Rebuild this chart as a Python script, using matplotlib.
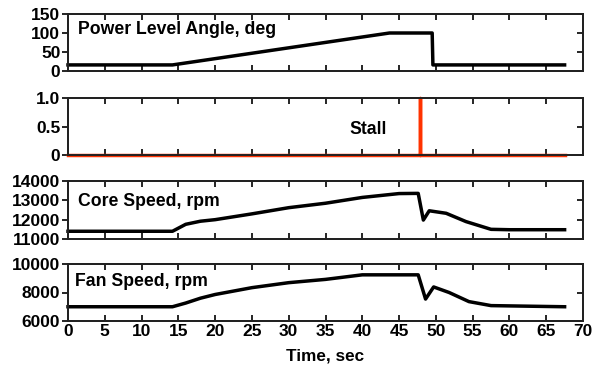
import matplotlib
matplotlib.use('Agg')
import matplotlib.pyplot as plt

plt.rcParams['font.family'] = ['Liberation Sans', 'DejaVu Sans']
plt.rcParams['font.weight'] = 'bold'

# Power level angle, deg
pla_t = [0, 14.2, 43.7, 49.5, 49.6, 67.5]
pla_v = [16, 16, 100, 100, 16, 16]

# Stall flag
stall_t = [0, 47.8, 47.8, 47.9, 47.9, 67.5]
stall_v = [0, 0, 1, 1, 0, 0]

# Core speed, rpm
core_t = [0, 14.2, 16, 18, 20, 25, 30, 35, 40, 45, 47.6, 48.3, 49.1, 51.4, 54.1, 57.5, 60, 67.5]
core_v = [11400, 11400, 11760, 11920, 12000, 12300, 12620, 12850, 13150, 13350, 13360,
          11980, 12460, 12330, 11900, 11500, 11480, 11480]

# Fan speed, rpm
fan_t = [0, 14.2, 16, 18, 20, 25, 30, 35, 40, 47.6, 48.6, 49.7, 51.8, 54.5, 57.5, 67.5]
fan_v = [7000, 7000, 7260, 7600, 7860, 8340, 8690, 8920, 9240, 9240, 7540, 8390, 8000,
         7360, 7080, 7000]

xticks = list(range(0, 75, 5))

fig = plt.figure(figsize=(6.01, 3.72), dpi=100)
W, H = 601, 372

def make_ax(top, bottom, ylim, yticks, ylabels):
    ax = fig.add_axes([68 / W, 1 - bottom / H, 515 / W, (bottom - top) / H])
    ax.set_xlim(0, 70)
    ax.set_ylim(*ylim)
    ax.set_xticks(xticks)
    ax.set_yticks(yticks)
    ax.set_yticklabels(ylabels)
    ax.tick_params(axis='x', direction='in', top=True, bottom=True, length=4, width=1.2,
                   labelbottom=False, labelsize=12.5)
    ax.tick_params(axis='y', direction='out', left=True, right=False, length=4, width=1.2,
                   labelsize=12.5, pad=1.5)
    r = ax.twinx()
    r.set_ylim(*ylim)
    r.set_yticks(yticks)
    r.tick_params(axis='y', direction='in', length=4, width=1.2, labelright=False)
    for a in (ax, r):
        for s in a.spines.values():
            s.set_linewidth(1.4)
            s.set_color('#222222')
    return ax

ax1 = make_ax(14, 71, (0, 150), [0, 50, 100, 150], ['0', '50', '100', '150'])
ax1.plot(pla_t, pla_v, color='black', lw=2.5, clip_on=False)
ax1.text(1.3, 108, 'Power Level Angle, deg', fontsize=12.7, fontweight='bold', va='center')

ax2 = make_ax(98, 155, (0, 1), [0, 0.5, 1.0], ['0', '0.5', '1.0'])
ax2.plot(stall_t, stall_v, color='#ff3300', lw=2.5, clip_on=False, zorder=5)
ax2.text(38.3, 0.44, 'Stall', fontsize=12.7, fontweight='bold', va='center')

ax3 = make_ax(181, 239, (11000, 14000), [11000, 12000, 13000, 14000],
              ['11000', '12000', '13000', '14000'])
ax3.plot(core_t, core_v, color='black', lw=2.5, clip_on=False)
ax3.text(1.3, 12950, 'Core Speed, rpm', fontsize=12.7, fontweight='bold', va='center')

ax4 = make_ax(264, 321, (6000, 10000), [6000, 8000, 10000], ['6000', '8000', '10000'])
ax4.plot(fan_t, fan_v, color='black', lw=2.5, clip_on=False)
ax4.text(1.0, 8800, 'Fan Speed, rpm', fontsize=12.7, fontweight='bold', va='center')
ax4.tick_params(axis='x', labelbottom=True, pad=2)
ax4.set_xlabel('Time, sec', fontsize=12.3, fontweight='bold', labelpad=7)

fig.savefig('out.png', dpi=100)
